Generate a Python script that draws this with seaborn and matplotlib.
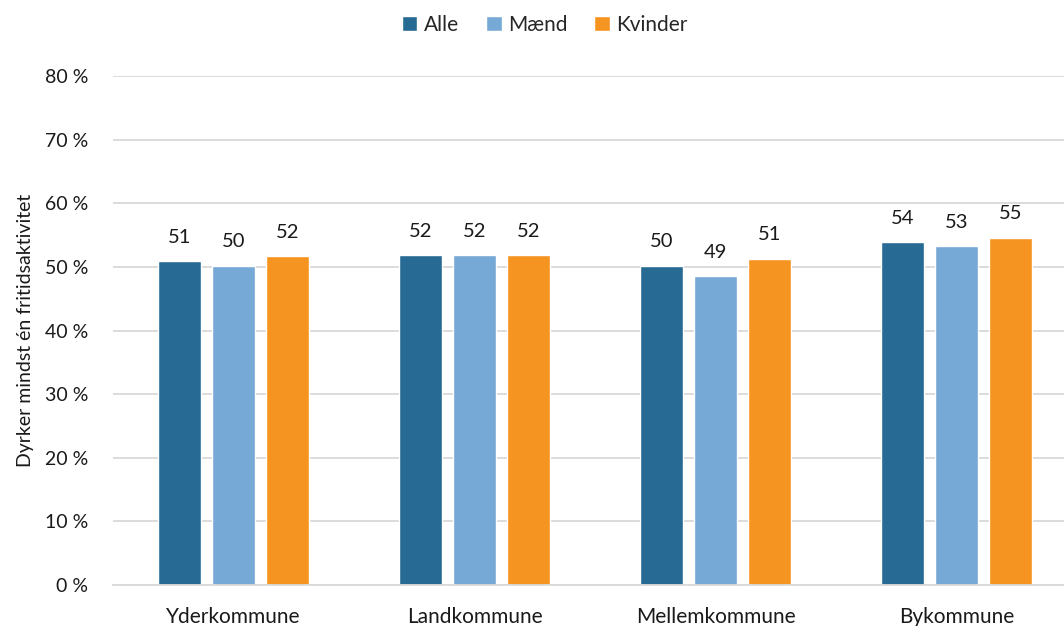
import matplotlib
matplotlib.use("Agg")
import matplotlib.pyplot as plt
import seaborn as sns
import pandas as pd
from matplotlib.ticker import FuncFormatter, MultipleLocator

categories = ["Yderkommune", "Landkommune", "Mellemkommune", "Bykommune"]
groups = ["Alle", "Mænd", "Kvinder"]
alle = [50.9, 51.9, 50.2, 53.9]
maend = [50.2, 51.9, 48.6, 53.3]
kvinder = [51.7, 51.9, 51.3, 54.6]
colors = ["#276A94", "#77A9D6", "#F59420"]
ylabel = "Dyrker mindst én fritidsaktivitet"

rows = []
for g, vals in zip(groups, [alle, maend, kvinder]):
    for c, v in zip(categories, vals):
        rows.append({"Kommune": c, "Gruppe": g, "Andel": v})
df = pd.DataFrame(rows)

sns.set_theme(style="white")
plt.rcParams["font.family"] = ["Lato", "DejaVu Sans"]
txt = "#1a1a1a"

fig = plt.figure(figsize=(10.64, 6.26), dpi=100)
ax = fig.add_axes([113/1064, 41/626, 964/1064, 509/626])

sns.barplot(data=df, x="Kommune", y="Andel", hue="Gruppe", order=categories,
            hue_order=groups, palette=colors, width=0.672, gap=0.22,
            saturation=1, ax=ax, legend=True, errorbar=None)

for cont in ax.containers:
    ax.bar_label(cont, fmt="%.0f", padding=11, fontsize=14.5, color=txt)

ax.set_ylim(0, 80)
ax.set_xlim(-0.5, 3.5)
ax.yaxis.set_major_locator(MultipleLocator(10))
ax.yaxis.set_major_formatter(FuncFormatter(lambda v, p: f"{v:.0f} %"))
ax.grid(axis="y", color="#D9D9D9", linewidth=1.3)
ax.set_axisbelow(True)
for s in ["top", "right", "left"]:
    ax.spines[s].set_visible(False)
ax.spines["bottom"].set_color("#D9D9D9")
ax.spines["bottom"].set_linewidth(1.3)
ax.tick_params(axis="y", labelsize=14, colors=txt, length=0, pad=18)
ax.tick_params(axis="x", labelsize=15, colors=txt, length=0, pad=16)
ax.set_xlabel("")
ax.set_ylabel(ylabel, fontsize=14, color=txt, labelpad=8)

handles, labels = ax.get_legend_handles_labels()
ax.legend(handles, labels, loc="upper center", bbox_to_anchor=(0.512, 1.006),
          bbox_transform=fig.transFigure, ncol=3, frameon=False, fontsize=15,
          handlelength=0.75, handleheight=0.75, handletextpad=0.3, columnspacing=1.3)

fig.savefig("out.png", dpi=100)
